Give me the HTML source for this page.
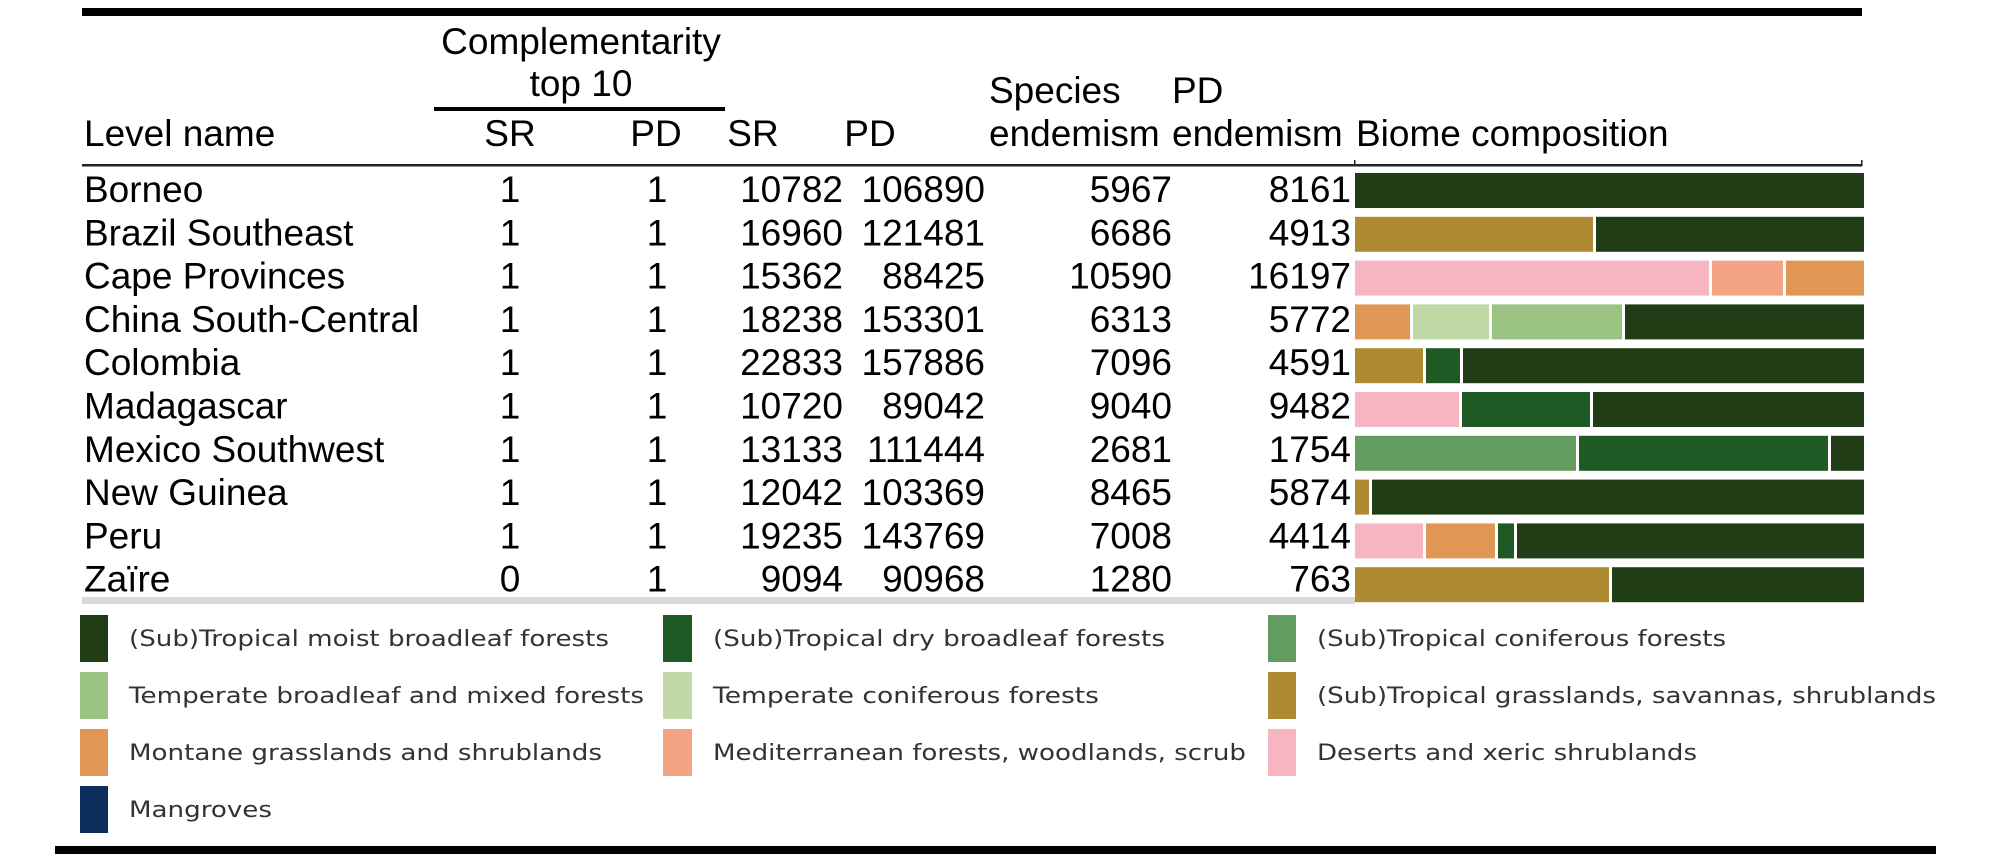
<!DOCTYPE html>
<html><head><meta charset="utf-8"><style>
html,body{margin:0;padding:0;background:#fff;}
svg{display:block;}
text{font-family:"Liberation Sans",Arial,sans-serif;fill:#000;}
.lg{font-family:"DejaVu Sans",sans-serif;font-size:22px;fill:#333;}
</style></head><body>
<svg width="2000" height="859" viewBox="0 0 2000 859" xmlns="http://www.w3.org/2000/svg">
<rect x="82" y="8" width="1780" height="8" fill="#000"/>
<g font-size="37">
<text x="581" y="54" text-anchor="middle">Complementarity</text>
<text x="581" y="96" text-anchor="middle">top 10</text>
<rect x="434" y="107" width="291" height="4" fill="#000"/>
<text x="989" y="103">Species</text>
<text x="1172" y="103">PD</text>
<text x="84" y="146">Level name</text>
<text x="510" y="146" text-anchor="middle">SR</text>
<text x="656" y="146" text-anchor="middle">PD</text>
<text x="753" y="146" text-anchor="middle">SR</text>
<text x="870" y="146" text-anchor="middle">PD</text>
<text x="989" y="146">endemism</text>
<text x="1172" y="146">endemism</text>
<text x="1356" y="146">Biome composition</text>
</g>
<rect x="82" y="164" width="1780" height="2.5" fill="#222"/>
<rect x="1354" y="160" width="1.5" height="6" fill="#222"/>
<rect x="1861" y="160" width="1.5" height="6" fill="#222"/>

<g font-size="37">
<text x="84" y="202">Borneo</text><text x="510" y="202" text-anchor="middle">1</text><text x="657" y="202" text-anchor="middle">1</text><text x="843" y="202" text-anchor="end">10782</text><text x="985" y="202" text-anchor="end">106890</text><text x="1172" y="202" text-anchor="end">5967</text><text x="1351" y="202" text-anchor="end">8161</text>
<text x="84" y="245.3">Brazil Southeast</text><text x="510" y="245.3" text-anchor="middle">1</text><text x="657" y="245.3" text-anchor="middle">1</text><text x="843" y="245.3" text-anchor="end">16960</text><text x="985" y="245.3" text-anchor="end">121481</text><text x="1172" y="245.3" text-anchor="end">6686</text><text x="1351" y="245.3" text-anchor="end">4913</text>
<text x="84" y="288.6">Cape Provinces</text><text x="510" y="288.6" text-anchor="middle">1</text><text x="657" y="288.6" text-anchor="middle">1</text><text x="843" y="288.6" text-anchor="end">15362</text><text x="985" y="288.6" text-anchor="end">88425</text><text x="1172" y="288.6" text-anchor="end">10590</text><text x="1351" y="288.6" text-anchor="end">16197</text>
<text x="84" y="331.9">China South-Central</text><text x="510" y="331.9" text-anchor="middle">1</text><text x="657" y="331.9" text-anchor="middle">1</text><text x="843" y="331.9" text-anchor="end">18238</text><text x="985" y="331.9" text-anchor="end">153301</text><text x="1172" y="331.9" text-anchor="end">6313</text><text x="1351" y="331.9" text-anchor="end">5772</text>
<text x="84" y="375.2">Colombia</text><text x="510" y="375.2" text-anchor="middle">1</text><text x="657" y="375.2" text-anchor="middle">1</text><text x="843" y="375.2" text-anchor="end">22833</text><text x="985" y="375.2" text-anchor="end">157886</text><text x="1172" y="375.2" text-anchor="end">7096</text><text x="1351" y="375.2" text-anchor="end">4591</text>
<text x="84" y="418.5">Madagascar</text><text x="510" y="418.5" text-anchor="middle">1</text><text x="657" y="418.5" text-anchor="middle">1</text><text x="843" y="418.5" text-anchor="end">10720</text><text x="985" y="418.5" text-anchor="end">89042</text><text x="1172" y="418.5" text-anchor="end">9040</text><text x="1351" y="418.5" text-anchor="end">9482</text>
<text x="84" y="461.8">Mexico Southwest</text><text x="510" y="461.8" text-anchor="middle">1</text><text x="657" y="461.8" text-anchor="middle">1</text><text x="843" y="461.8" text-anchor="end">13133</text><text x="985" y="461.8" text-anchor="end">111444</text><text x="1172" y="461.8" text-anchor="end">2681</text><text x="1351" y="461.8" text-anchor="end">1754</text>
<text x="84" y="505.1">New Guinea</text><text x="510" y="505.1" text-anchor="middle">1</text><text x="657" y="505.1" text-anchor="middle">1</text><text x="843" y="505.1" text-anchor="end">12042</text><text x="985" y="505.1" text-anchor="end">103369</text><text x="1172" y="505.1" text-anchor="end">8465</text><text x="1351" y="505.1" text-anchor="end">5874</text>
<text x="84" y="548.4">Peru</text><text x="510" y="548.4" text-anchor="middle">1</text><text x="657" y="548.4" text-anchor="middle">1</text><text x="843" y="548.4" text-anchor="end">19235</text><text x="985" y="548.4" text-anchor="end">143769</text><text x="1172" y="548.4" text-anchor="end">7008</text><text x="1351" y="548.4" text-anchor="end">4414</text>
<text x="84" y="591.7">Zaïre</text><text x="510" y="591.7" text-anchor="middle">0</text><text x="657" y="591.7" text-anchor="middle">1</text><text x="843" y="591.7" text-anchor="end">9094</text><text x="985" y="591.7" text-anchor="end">90968</text><text x="1172" y="591.7" text-anchor="end">1280</text><text x="1351" y="591.7" text-anchor="end">763</text>
</g>
<rect x="82" y="597" width="1273" height="7" fill="#d9d9d9"/>

<g>
<rect x="1355" y="173" width="509" height="35" fill="#213d16"/>

<rect x="1355" y="216.8" width="238" height="35" fill="#ae8a32"/>
<rect x="1596" y="216.8" width="268" height="35" fill="#213d16"/>

<rect x="1355" y="260.6" width="354" height="35" fill="#f7b5c1"/>
<rect x="1712" y="260.6" width="71" height="35" fill="#f4a385"/>
<rect x="1786" y="260.6" width="78" height="35" fill="#e09755"/>

<rect x="1355" y="304.4" width="55" height="35" fill="#e09755"/>
<rect x="1413" y="304.4" width="76" height="35" fill="#c2d9a5"/>
<rect x="1492" y="304.4" width="130" height="35" fill="#9bc382"/>
<rect x="1625" y="304.4" width="239" height="35" fill="#213d16"/>

<rect x="1355" y="348.2" width="68" height="35" fill="#ae8a32"/>
<rect x="1426" y="348.2" width="34" height="35" fill="#1f5a24"/>
<rect x="1463" y="348.2" width="401" height="35" fill="#213d16"/>

<rect x="1355" y="392" width="104" height="35" fill="#f7b5c1"/>
<rect x="1462" y="392" width="128" height="35" fill="#1f5a24"/>
<rect x="1593" y="392" width="271" height="35" fill="#213d16"/>

<rect x="1355" y="435.8" width="221" height="35" fill="#629c5f"/>
<rect x="1579" y="435.8" width="249" height="35" fill="#1f5a24"/>
<rect x="1831" y="435.8" width="33" height="35" fill="#213d16"/>

<rect x="1355" y="479.6" width="14" height="35" fill="#ae8a32"/>
<rect x="1372" y="479.6" width="492" height="35" fill="#213d16"/>

<rect x="1355" y="523.4" width="68" height="35" fill="#f7b5c1"/>
<rect x="1426" y="523.4" width="69" height="35" fill="#e09755"/>
<rect x="1498" y="523.4" width="16" height="35" fill="#1f5a24"/>
<rect x="1517" y="523.4" width="347" height="35" fill="#213d16"/>

<rect x="1355" y="567.2" width="254" height="35" fill="#ae8a32"/>
<rect x="1612" y="567.2" width="252" height="35" fill="#213d16"/>
</g>

<g>
<rect x="80" y="615" width="28" height="47" fill="#213d16"/>
<rect x="663" y="615" width="29" height="47" fill="#1f5a24"/>
<rect x="1268" y="615" width="28" height="47" fill="#629c5f"/>
<rect x="80" y="672" width="28" height="47" fill="#9bc382"/>
<rect x="663" y="672" width="29" height="47" fill="#c2d9a5"/>
<rect x="1268" y="672" width="28" height="47" fill="#ae8a32"/>
<rect x="80" y="729" width="28" height="47" fill="#e09755"/>
<rect x="663" y="729" width="29" height="47" fill="#f4a385"/>
<rect x="1268" y="729" width="28" height="47" fill="#f7b5c1"/>
<rect x="80" y="786" width="28" height="47" fill="#0c2e5c"/>
</g>
<g class="lg">
<text class="lg" x="129" y="646" textLength="480" lengthAdjust="spacingAndGlyphs">(Sub)Tropical moist broadleaf forests</text>
<text class="lg" x="713" y="646" textLength="452" lengthAdjust="spacingAndGlyphs">(Sub)Tropical dry broadleaf forests</text>
<text class="lg" x="1317" y="646" textLength="409" lengthAdjust="spacingAndGlyphs">(Sub)Tropical coniferous forests</text>
<text class="lg" x="129" y="703" textLength="515" lengthAdjust="spacingAndGlyphs">Temperate broadleaf and mixed forests</text>
<text class="lg" x="713" y="703" textLength="386" lengthAdjust="spacingAndGlyphs">Temperate coniferous forests</text>
<text class="lg" x="1317" y="703" textLength="619" lengthAdjust="spacingAndGlyphs">(Sub)Tropical grasslands, savannas, shrublands</text>
<text class="lg" x="129" y="760" textLength="473" lengthAdjust="spacingAndGlyphs">Montane grasslands and shrublands</text>
<text class="lg" x="713" y="760" textLength="533" lengthAdjust="spacingAndGlyphs">Mediterranean forests, woodlands, scrub</text>
<text class="lg" x="1317" y="760" textLength="380" lengthAdjust="spacingAndGlyphs">Deserts and xeric shrublands</text>
<text class="lg" x="129" y="817" textLength="143" lengthAdjust="spacingAndGlyphs">Mangroves</text>
</g>
<rect x="55" y="846" width="1881" height="8" fill="#000"/>
</svg>
</body></html>
